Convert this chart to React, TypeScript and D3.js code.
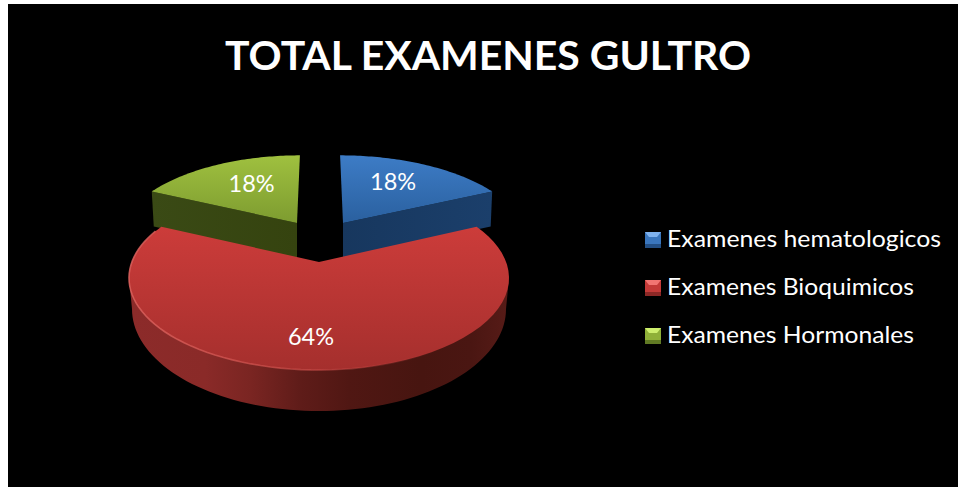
import React from 'react'
import * as d3 from 'd3'

const categories = ['Examenes hematologicos', 'Examenes Bioquimicos', 'Examenes Hormonales']
const values = [18, 64, 18]
const pctLabels = ['18%', '64%', '18%']
const title = 'TOTAL EXAMENES GULTRO'

const W = 958
const H = 487
const font = 'Lato, "Open Sans", sans-serif'

// ellipse of the big slice, and how far back the pie apex sits in it
const cx = 319
const cy = 278
const rx = 190
const ry = 92
const tilt = 0.174

// lower outline of the big slice wall
const baseRx = 187
const baseRy = 102
const baseCy = 309

// per slice drawing setup, same order as categories
const looks = [
  { id: 'blue', top: ['#3d7cc6', '#2a609f'], wall: ['#17375e', '#1b3f6b'], mark: ['#7fb2ee', '#3a76bd', '#234f85'],
    dx: 24, dy: -39, sx: 0.955, sy: 0.89, skew: -0.043, depth: 35, labelT: 0.65, labelDx: -5 },
  { id: 'red', top: ['#cc3c3a', '#a52f2d'], wall: ['#8a2a28', '#4a1612'], mark: ['#f27572', '#c43a38', '#8c2826'],
    dx: 0, dy: 0, sx: 1, sy: 1, skew: 0, depth: 41, labelT: 0.74, labelDx: -8 },
  { id: 'green', top: ['#9fc03f', '#7d9c30'], wall: ['#3a4a15', '#35430f'], mark: ['#cdee6d', '#8fb038', '#617a24'],
    dx: -22, dy: -39, sx: 0.93, sy: 0.89, skew: 0.043, depth: 35, labelT: 0.62, labelDx: 6 }
]

type Look = (typeof looks)[number]

// perspective map of the unit disk, keeps the rim on the ellipse
function project(t: number, a: number, look: Look): [number, number] {
  const u = t * Math.sin(a)
  const v = t * Math.cos(a)
  const w = 1 + tilt * v
  const px = rx * (u * Math.sqrt(1 - tilt * tilt)) / w
  const py = ry * ((v + tilt) / w - tilt)
  const apexY = cy - ry * tilt
  const x = cx + look.dx + look.sx * px + look.skew * py * look.sy
  const y = apexY + look.dy - look.sy * py
  return [x, y]
}

function rim(a0: number, a1: number, look: Look) {
  return d3.range(0, 61).map(i => project(1, a0 + ((a1 - a0) * i) / 60, look))
}

const line = d3.line()

function redWall() {
  const lower = d3.range(0, 81).map(i => {
    const a = (Math.PI * i) / 80
    return [cx - baseRx * Math.cos(a), baseCy + baseRy * Math.sin(a)] as [number, number]
  })
  return line([[cx - rx, cy], ...lower, [cx + rx, cy]]) + 'Z'
}

export default function App() {
  const arcs = d3.pie<number>().sort(null)(values)
  const legendY = d3.scalePoint<string>().domain(categories).range([240, 336])

  return (
    <svg width={W} height={H} style={{ position: 'absolute', left: 0, top: 0 }}>
      <defs>
        {looks.map(l => (
          <React.Fragment key={l.id}>
            <linearGradient id={l.id + '-top'} x1="0" y1="0" x2="0" y2="1">
              <stop offset="0" stopColor={l.top[0]} />
              <stop offset="1" stopColor={l.top[1]} />
            </linearGradient>
            <linearGradient id={l.id + '-side'} x1="0" y1="0" x2="1" y2="0">
              <stop offset="0" stopColor={l.wall[0]} />
              <stop offset="1" stopColor={l.wall[1]} />
            </linearGradient>
          </React.Fragment>
        ))}
        <linearGradient id="red-wall" gradientUnits="userSpaceOnUse" x1="129" y1="0" x2="509" y2="0">
          <stop offset="0" stopColor="#8c2b2a" />
          <stop offset="0.2" stopColor="#8a2a28" />
          <stop offset="0.32" stopColor="#7a2522" />
          <stop offset="0.45" stopColor="#5f1c19" />
          <stop offset="0.58" stopColor="#501713" />
          <stop offset="0.77" stopColor="#471510" />
          <stop offset="0.9" stopColor="#4a1612" />
          <stop offset="1" stopColor="#571b17" />
        </linearGradient>
        <linearGradient id="red-edge" gradientUnits="userSpaceOnUse" x1="129" y1="0" x2="440" y2="0">
          <stop offset="0" stopColor="#dc625e" stopOpacity="0.85" />
          <stop offset="0.6" stopColor="#d0504c" stopOpacity="0.6" />
          <stop offset="1" stopColor="#c04040" stopOpacity="0" />
        </linearGradient>
      </defs>

      <rect x={8} y={4} width={W - 8} height={H - 4} fill="#000" />

      <text x={488} y={69.5} textAnchor="middle" fill="#fff" fontFamily={font} fontWeight={700} fontSize={39.5} textLength={526} lengthAdjust="spacingAndGlyphs">
        {title}
      </text>

      {/* the two pulled out slices go behind the big one */}
      {[2, 0, 1].map(i => {
        const d = arcs[i]
        const look = looks[i]
        const apex = project(0, 0, look)
        const top = rim(d.startAngle, d.endAngle, look)
        const topPath = line([apex, ...top]) + 'Z'
        let wall: string
        if (i === 1) {
          wall = redWall()
        } else {
          // the cut face that looks at the camera
          const corner = i === 0 ? top[top.length - 1] : top[0]
          const inset = i === 0 ? -1.5 : 2
          wall = line([apex, corner, [corner[0] + inset, corner[1] + look.depth], [apex[0], apex[1] + look.depth]]) + 'Z'
        }
        const rimLine = i === 1 ? line(rim(Math.PI * 0.75, Math.PI * 1.62, look)) : null
        return (
          <g key={look.id}>
            <path d={wall} fill={i === 1 ? 'url(#red-wall)' : `url(#${look.id}-side)`} />
            <path d={topPath} fill={`url(#${look.id}-top)`} />
            {rimLine && <path d={rimLine} fill="none" stroke="url(#red-edge)" strokeWidth={1.6} />}
          </g>
        )
      })}

      {arcs.map((d, i) => {
        const look = looks[i]
        const mid = (d.startAngle + d.endAngle) / 2
        const p = project(look.labelT, mid, look)
        return (
          <text key={i} x={p[0] + look.labelDx} y={p[1] + 7} textAnchor="middle" fill="#fff" fontFamily={font} fontSize={23.5}>
            {pctLabels[i]}
          </text>
        )
      })}

      {categories.map((c, i) => {
        const y = legendY(c) as number
        const m = looks[i].mark
        const x = 645
        const s = 16
        return (
          <g key={c}>
            <rect x={x} y={y - 8} width={s} height={s} fill={m[1]} />
            <path d={line([[x, y - 8], [x + s, y - 8], [x + s - 4, y - 3], [x + 4, y - 3]]) + 'Z'} fill={m[0]} />
            <rect x={x} y={y + 4} width={s} height={4} fill={m[2]} />
            <text x={667} y={y + 7} fill="#fff" fontFamily={font} fontSize={23.5} textLength={[274, 247, 247][i]} lengthAdjust="spacingAndGlyphs">
              {c}
            </text>
          </g>
        )
      })}
    </svg>
  )
}
